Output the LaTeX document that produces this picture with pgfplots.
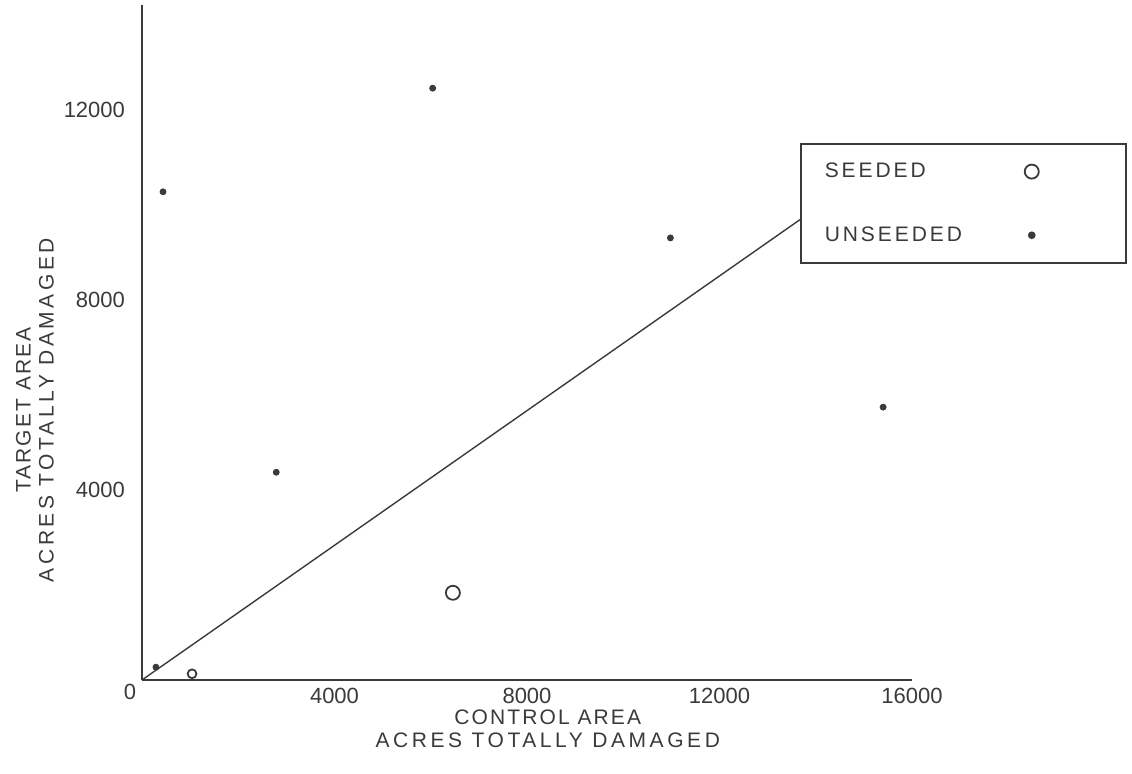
\documentclass[border=0pt]{standalone}
\usepackage{fontspec}
\setmainfont{Liberation Sans}
\newfontfamily\hand[LetterSpace=10]{Liberation Sans}
\newfontfamily\handwide[LetterSpace=17]{Liberation Sans}
\newfontfamily\handleg[LetterSpace=14]{Liberation Sans}
\usepackage{pgfplots}
\pgfplotsset{compat=1.18}
\definecolor{ink}{HTML}{3A3A3A}

\begin{document}
\begin{tikzpicture}
\useasboundingbox (-71pt,-47pt) rectangle (495pt,340pt);
\begin{axis}[
    scale only axis,
    width=385pt, height=337.5pt,
    xmin=0, xmax=16000,
    ymin=0, ymax=14200,
    axis lines*=left,
    axis line style={ink, line width=0.6pt},
    xtick={4000,8000,12000,16000},
    ytick={4000,8000,12000},
    major tick length=0pt,
    scaled ticks=false,
    /pgf/number format/assume math mode=true,
    /pgf/number format/1000 sep={},
    tick label style={font=\fontsize{11}{13}\selectfont, text=ink},
    xticklabel style={yshift=-0.5pt},
    yticklabel style={xshift=-5pt},
    xlabel={{\hand CONTROL AREA}\\{\handwide ACRES TOTALLY DAMAGED}},
    ylabel={{\hand TARGET AREA}\\{\handwide ACRES TOTALLY DAMAGED}},
    label style={font=\fontsize{10.5}{11.5}\selectfont, text=ink, align=center},
    xlabel style={at={(axis description cs:0.527,-0.0726)}, anchor=center},
    ylabel style={at={(axis description cs:-0.139,0.40)}, anchor=center},
    legend style={at={(0.8545,0.7956)}, anchor=north west, draw=ink,
        line width=0.8pt, font=\handleg\fontsize{10.5}{12}\selectfont, text=ink,
        row sep=19pt, inner xsep=10pt, inner ysep=7.5pt},
    legend plot pos=right,
    legend cell align=left,
    legend image code/.code={
        \draw[mark repeat=2,mark phase=2,#1] plot coordinates {(0cm,0cm)(0.3cm,0cm)(0.6cm,0cm)};
        \path[draw=none,fill=none] (0.6cm,0) -- (1.6cm,0);},
    clip=false,
]

% fitted line (drawn first, behind the points)
\addplot[ink, line width=0.7pt, forget plot] coordinates {(0,0) (13850,9810)};

% seeded
\addplot[only marks, mark=o, mark size=3.5pt, ink, line width=0.9pt]
    coordinates {(6460,1835)};
\addlegendentry{\makebox[98pt][l]{SEEDED}}

% unseeded
\addplot[only marks, mark=*, mark size=1.5pt, ink]
    coordinates {
    (437,10270) (6040,12450) (2790,4370) (10980,9300) (15400,5740) (290,270)
    };
\addlegendentry{\makebox[98pt][l]{UNSEEDED}}

% small seeded circle near the origin
\addplot[only marks, mark=o, mark size=2.2pt, ink, line width=0.9pt, forget plot]
    coordinates {(1040,130)};

\node[font=\fontsize{11}{13}\selectfont, text=ink] at (axis cs:0,0) [xshift=-6pt, yshift=-6pt] {0};
\end{axis}
\end{tikzpicture}
\end{document}
